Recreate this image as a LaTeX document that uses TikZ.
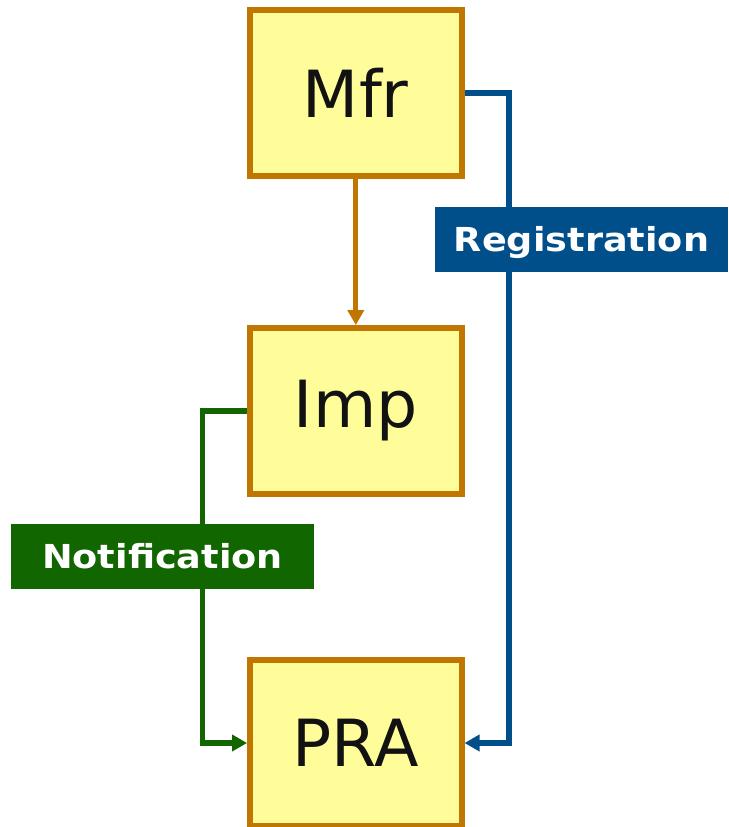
\documentclass[tikz,border=0pt]{standalone}
\usepackage{fontspec}
\setmainfont{DejaVu Sans}
\newfontfamily\labelfont[FakeStretch=1.11]{DejaVu Sans}
\usetikzlibrary{arrows.meta}

\definecolor{boxfill}{RGB}{255,253,153}
\definecolor{boxline}{RGB}{192,118,0}
\definecolor{regblue}{RGB}{0,79,138}
\definecolor{notgreen}{RGB}{17,102,0}

\tikzset{
  entity/.style={draw=boxline, fill=boxfill, line width=5.8pt,
    minimum width=211.7pt, minimum height=166pt, inner sep=0pt,
    text=black!93, font=\fontsize{65}{78}\selectfont},
  flowlabel/.style={inner sep=0pt, minimum height=65pt, text=white,
    text height=24pt, text depth=0pt,
    font=\labelfont\fontsize{33}{40}\selectfont\bfseries},
  flow/.style={line width=5.2pt, -{Triangle[width=16pt,length=15pt]}}
}

\begin{document}
\begin{tikzpicture}[x=1pt, y=-1pt]

   \useasboundingbox (0,0) rectangle (728,827);

   %===== Boxes =====%
   \node[entity] (mfr) at (355.8,93) {Mfr};
   \node[entity] (imp) at (355.8,411) {Imp};
   \node[entity] (pra) at (355.8,743) {PRA};

   %===== Connectors =====%
   \draw[flow, boxline] (mfr) -- (imp); % Mfr to Imp

   % Registration, round the right side
   \coordinate (regbend) at (509,93);
   \draw[flow, regblue] (mfr.east) -- (regbend) |- (pra.east);

   % Notification, round the left side
   \coordinate (notbend) at (202.5,411);
   \draw[flow, notgreen] (imp.west) -- (notbend) |- (pra.west);

   %===== Labels =====%
   \node[flowlabel, fill=regblue, minimum width=293pt] (reg) at (581.5,239.5) {Registration};
   \node[flowlabel, fill=notgreen, minimum width=303pt] (notif) at (162.5,556) {Notification};

\end{tikzpicture}
\end{document}
